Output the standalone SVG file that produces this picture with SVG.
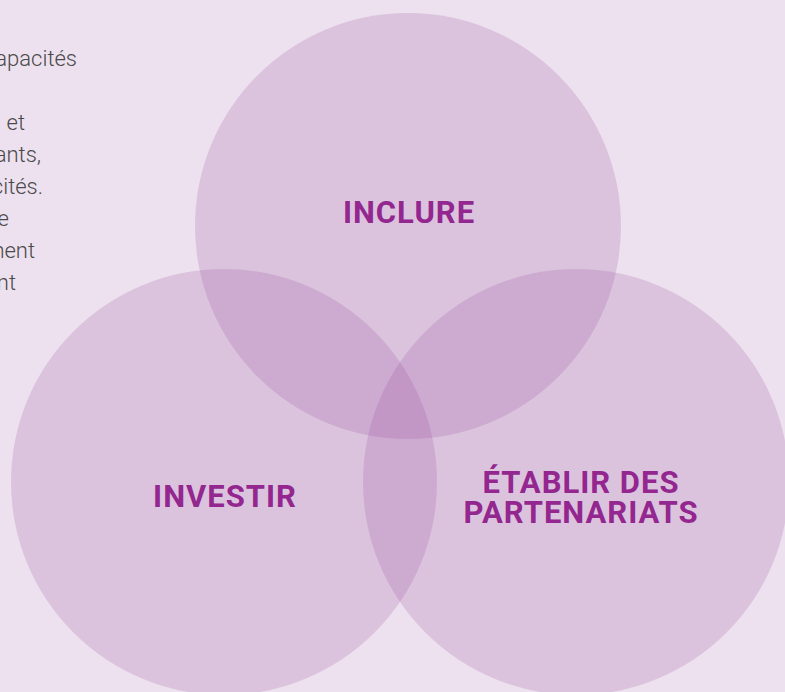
<svg xmlns="http://www.w3.org/2000/svg" width="785" height="692" viewBox="0 0 785 692">
  <style>
    .circle { fill: #984b9a; fill-opacity: 0.2; }
    .label { font-family: Roboto, "Liberation Sans", sans-serif; font-weight: 700; font-size: 31px; letter-spacing: 1px; fill: #93278f; text-anchor: middle; }
    .body { font-family: Roboto, "Liberation Sans", sans-serif; font-weight: 300; font-size: 22px; fill: #4a4a4a; text-anchor: end; }
  </style>
  <rect x="0" y="0" width="785" height="692" fill="#ede1ef"/>
  <g id="body-text">
    <text class="body" x="77" y="66">apacités</text>
    <text class="body" x="25" y="130">et</text>
    <text class="body" x="41" y="162">ants,</text>
    <text class="body" x="43" y="194">cités.</text>
    <text class="body" x="9" y="226">e</text>
    <text class="body" x="35" y="258">ment</text>
    <text class="body" x="16" y="290">nt</text>
  </g>
  <g id="connectors"></g>
  <g id="node-inclure">
    <circle class="circle" cx="408" cy="226" r="213"/>
    <text class="label" x="409" y="223">INCLURE</text>
  </g>
  <g id="node-investir">
    <circle class="circle" cx="224" cy="482" r="213"/>
    <text class="label" x="225" y="507">INVESTIR</text>
  </g>
  <g id="node-partenariats">
    <circle class="circle" cx="576" cy="482" r="213"/>
    <text class="label" x="581" y="493">ÉTABLIR DES</text>
    <text class="label" x="581" y="523">PARTENARIATS</text>
  </g>
</svg>
